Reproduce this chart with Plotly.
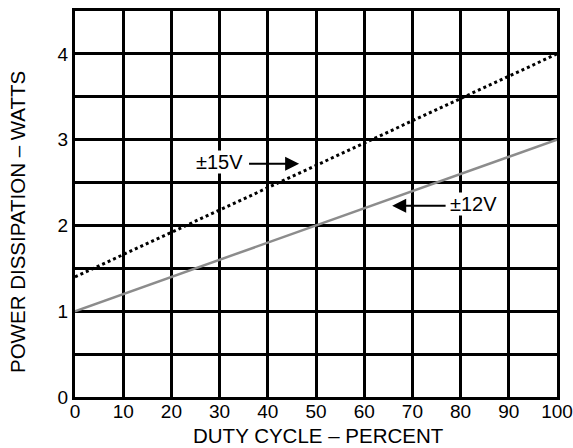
import plotly.graph_objects as go

duty = [0, 100]
p15 = [1.4, 4.0]
p12 = [1.0, 3.0]
x_ticks = [0, 10, 20, 30, 40, 50, 60, 70, 80, 90, 100]
y_ticks = [0, 1, 2, 3, 4]

fig = go.Figure()
fig.add_trace(go.Scatter(x=duty, y=p12, mode="lines",
                         line=dict(color="#8c8c8c", width=2.5), showlegend=False))
fig.add_trace(go.Scatter(x=duty, y=p15, mode="lines",
                         line=dict(color="black", width=3, dash="dot"), showlegend=False))

font = dict(family="Liberation Sans, Arial, sans-serif", color="black")

fig.add_annotation(x=46.5, y=2.72, ax=35.8, ay=2.72, axref="x", ayref="y",
                   xref="x", yref="y", showarrow=True, arrowhead=2, arrowsize=1.4,
                   arrowwidth=2, arrowcolor="black", text="")
fig.add_annotation(x=30.0, y=2.74, text="±15V", showarrow=False, bgcolor="white",
                   borderpad=0, font=dict(size=20, **font), xref="x", yref="y")
fig.add_annotation(x=65.8, y=2.23, ax=77.2, ay=2.23, axref="x", ayref="y",
                   xref="x", yref="y", showarrow=True, arrowhead=2, arrowsize=1.4,
                   arrowwidth=2, arrowcolor="black", text="")
fig.add_annotation(x=82.6, y=2.25, text="±12V", showarrow=False, bgcolor="white",
                   borderpad=0, font=dict(size=20, **font), xref="x", yref="y")

fig.add_annotation(x=318, y=436, xref="paper", yref="paper", text="DUTY CYCLE – PERCENT",
                   showarrow=False, font=dict(size=20.5, **font))
fig.add_annotation(x=18, y=222, xref="paper", yref="paper", text="POWER DISSIPATION – WATTS",
                   showarrow=False, textangle=-90, font=dict(size=20.5, **font))

fig.update_layout(
    width=573, height=448,
    margin=dict(l=75, r=16, t=11, b=51),
    paper_bgcolor="white", plot_bgcolor="white",
    font=font,
)
# paper-pixel mapping for title annotations
W, H = 573, 448
for a in fig.layout.annotations[-2:]:
    a.x = (a.x - 75) / (W - 75 - 16)
    a.y = (H - 51 - a.y) / (H - 11 - 51)
    a.xanchor = "center"
    a.yanchor = "middle"

fig.update_xaxes(range=[0, 100], tickvals=x_ticks, ticktext=[str(v) for v in x_ticks],
                 showgrid=True, gridcolor="black", gridwidth=3,
                 showline=True, linecolor="black", linewidth=3, mirror=True,
                 zeroline=False, ticks="", tickfont=dict(size=19, **font), automargin=False,
                 ticklabelstandoff=-5)
fig.update_yaxes(range=[0, 4.5], tickvals=y_ticks, ticktext=[str(v) for v in y_ticks],
                 showgrid=True, gridcolor="black", gridwidth=3,
                 minor=dict(dtick=0.5, tick0=0, showgrid=True, gridcolor="black", gridwidth=3),
                 showline=True, linecolor="black", linewidth=3, mirror=True,
                 zeroline=False, ticks="", tickfont=dict(size=19, **font), automargin=False)

fig.write_html("out.html", config={"displayModeBar": False},
               post_script="document.body.style.margin='0';")
